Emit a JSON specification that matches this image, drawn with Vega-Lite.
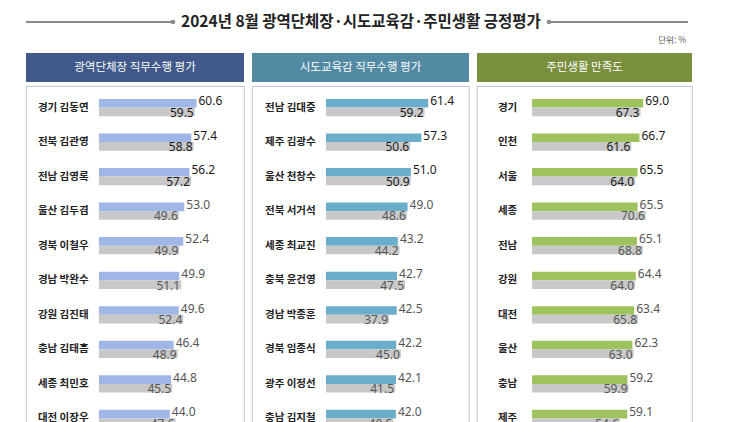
{
  "$schema": "https://vega.github.io/schema/vega-lite/v6.json",
  "background": "white",
  "padding": {"left": 25, "top": 8, "right": 5, "bottom": 5},
  "config": {"view": {"stroke": null}, "font": "Noto Sans CJK KR", "concat": {"spacing": 6}},
  "datasets": {
    "rows": [
      {"panel": 1, "rank": 1, "name": "경기 김동연", "cur": 60.6, "prev": 59.5},
      {"panel": 1, "rank": 2, "name": "전북 김관영", "cur": 57.4, "prev": 58.8},
      {"panel": 1, "rank": 3, "name": "전남 김영록", "cur": 56.2, "prev": 57.2},
      {"panel": 1, "rank": 4, "name": "울산 김두겸", "cur": 53.0, "prev": 49.6},
      {"panel": 1, "rank": 5, "name": "경북 이철우", "cur": 52.4, "prev": 49.9},
      {"panel": 1, "rank": 6, "name": "경남 박완수", "cur": 49.9, "prev": 51.1},
      {"panel": 1, "rank": 7, "name": "강원 김진태", "cur": 49.6, "prev": 52.4},
      {"panel": 1, "rank": 8, "name": "충남 김태흠", "cur": 46.4, "prev": 48.9},
      {"panel": 1, "rank": 9, "name": "세종 최민호", "cur": 44.8, "prev": 45.5},
      {"panel": 1, "rank": 10, "name": "대전 이장우", "cur": 44.0, "prev": 47.6},
      {"panel": 2, "rank": 1, "name": "전남 김대중", "cur": 61.4, "prev": 59.2},
      {"panel": 2, "rank": 2, "name": "제주 김광수", "cur": 57.3, "prev": 50.6},
      {"panel": 2, "rank": 3, "name": "울산 천창수", "cur": 51.0, "prev": 50.9},
      {"panel": 2, "rank": 4, "name": "전북 서거석", "cur": 49.0, "prev": 48.6},
      {"panel": 2, "rank": 5, "name": "세종 최교진", "cur": 43.2, "prev": 44.2},
      {"panel": 2, "rank": 6, "name": "충북 윤건영", "cur": 42.7, "prev": 47.5},
      {"panel": 2, "rank": 7, "name": "경남 박종훈", "cur": 42.5, "prev": 37.9},
      {"panel": 2, "rank": 8, "name": "경북 임종식", "cur": 42.2, "prev": 45.0},
      {"panel": 2, "rank": 9, "name": "광주 이정선", "cur": 42.1, "prev": 41.5},
      {"panel": 2, "rank": 10, "name": "충남 김지철", "cur": 42.0, "prev": 40.5},
      {"panel": 3, "rank": 1, "name": "경기", "cur": 69.0, "prev": 67.3},
      {"panel": 3, "rank": 2, "name": "인천", "cur": 66.7, "prev": 61.6},
      {"panel": 3, "rank": 3, "name": "서울", "cur": 65.5, "prev": 64.0},
      {"panel": 3, "rank": 4, "name": "세종", "cur": 65.5, "prev": 70.6},
      {"panel": 3, "rank": 5, "name": "전남", "cur": 65.1, "prev": 68.8},
      {"panel": 3, "rank": 6, "name": "강원", "cur": 64.4, "prev": 64.0},
      {"panel": 3, "rank": 7, "name": "대전", "cur": 63.4, "prev": 65.8},
      {"panel": 3, "rank": 8, "name": "울산", "cur": 62.3, "prev": 63.0},
      {"panel": 3, "rank": 9, "name": "충남", "cur": 59.2, "prev": 59.9},
      {"panel": 3, "rank": 10, "name": "제주", "cur": 59.1, "prev": 54.6}
    ],
    "deco": [
      {"kind": "line", "a": 0, "b": 0.222},
      {"kind": "line", "a": 0.79, "b": 1}
    ],
    "dots": [{"p": 0.222}, {"p": 0.79}],
    "heads": [{"t": "2024년 8월 광역단체장·시도교육감·주민생활 긍정평가", "x": 0.506, "y": 0.64}],
    "unit": [{"t": "단위: %", "x": 1, "y": 0.2}]
  },
  "vconcat": [
    {
      "width": 662,
      "height": 40,
      "layer": [
        {
          "data": {"name": "deco"},
          "mark": {"type": "rule", "color": "#8a8a8a", "strokeWidth": 2},
          "encoding": {
            "x": {"field": "a", "type": "quantitative", "scale": {"domain": [0, 1], "nice": false, "zero": false}, "axis": null},
            "x2": {"field": "b"},
            "y": {"datum": 0.65, "type": "quantitative", "scale": {"domain": [0, 1], "nice": false}, "axis": null}
          }
        },
        {
          "data": {"name": "dots"},
          "mark": {"type": "circle", "color": "#8a8a8a", "opacity": 1, "size": 22},
          "encoding": {
            "x": {"field": "p", "type": "quantitative"},
            "y": {"datum": 0.65, "type": "quantitative"}
          }
        },
        {
          "data": {"name": "heads"},
          "mark": {"type": "text", "fontSize": 15.5, "fontWeight": "bold", "color": "#222222", "align": "center", "baseline": "middle"},
          "encoding": {
            "x": {"field": "x", "type": "quantitative"},
            "y": {"field": "y", "type": "quantitative"},
            "text": {"field": "t"}
          }
        },
        {
          "data": {"name": "unit"},
          "mark": {"type": "text", "fontSize": 8.5, "color": "#555555", "align": "right", "baseline": "middle", "dx": -2},
          "encoding": {
            "x": {"field": "x", "type": "quantitative"},
            "y": {"field": "y", "type": "quantitative"},
            "text": {"field": "t"}
          }
        }
      ]
    },
    {
      "hconcat": [
        {
          "spacing": 3,
          "vconcat": [
            {
              "width": 218, "height": 29,
              "view": {"fill": "#40598a", "stroke": null},
              "data": {"values": [{"t": "광역단체장 직무수행 평가"}]},
              "mark": {"type": "text", "color": "white", "fontSize": 11.5, "baseline": "middle", "align": "center"},
              "encoding": {"text": {"field": "t"}}
            },
            {
              "width": 218, "height": 354,
              "view": {"fill": "white", "stroke": "#c6d0da", "strokeWidth": 1.2},
              "data": {"name": "rows"},
              "transform": [{"filter": "datum.panel === 1"}, {"fold": ["cur", "prev"], "as": ["series", "value"]}],
              "encoding": {
                "y": {"field": "rank", "type": "ordinal", "axis": null, "scale": {"paddingInner": 0, "paddingOuter": 0.123}}
              },
              "layer": [
                {
                  "mark": {"type": "bar"},
                  "encoding": {
                    "x": {"field": "value", "type": "quantitative", "axis": null, "scale": {"domain": [-45.3, 90.1], "nice": false, "zero": false}},
                    "x2": {"datum": 0},
                    "yOffset": {"field": "series", "scale": {"domain": ["cur", "prev"], "paddingInner": 0, "paddingOuter": 1.03}},
                    "color": {"condition": {"test": "datum.series === 'cur'", "value": "#9fb6e6"}, "value": "#c8c8c8"}
                  }
                },
                {
                  "transform": [{"filter": "datum.series === 'cur'"}],
                  "mark": {"type": "text", "align": "left", "baseline": "middle", "dx": 2, "dy": -2, "fontSize": 12, "font": "Noto Sans"},
                  "encoding": {
                    "x": {"field": "value", "type": "quantitative"},
                    "yOffset": {"field": "series"},
                    "text": {"field": "value", "format": ".1f"},
                    "color": {"condition": {"test": "datum.rank <= 3", "value": "#1a1a1a"}, "value": "#555555"}
                  }
                },
                {
                  "transform": [{"filter": "datum.series === 'prev'"}],
                  "mark": {"type": "text", "align": "right", "baseline": "middle", "dx": -1, "dy": 1, "fontSize": 12, "font": "Noto Sans"},
                  "encoding": {
                    "x": {"field": "value", "type": "quantitative"},
                    "yOffset": {"field": "series"},
                    "text": {"field": "value", "format": ".1f"},
                    "color": {"condition": {"test": "datum.rank <= 3", "value": "#1a1a1a"}, "value": "#555555"}
                  }
                },
                {
                  "transform": [{"filter": "datum.series === 'cur'"}],
                  "mark": {"type": "text", "align": "left", "baseline": "middle", "fontSize": 10.5, "fontWeight": "bold", "color": "#222222"},
                  "encoding": {
                    "x": {"datum": -37.9, "type": "quantitative"},
                    "text": {"field": "name"}
                  }
                }
              ]
            }
          ]
        },
        {
          "spacing": 3,
          "vconcat": [
            {
              "width": 217, "height": 29,
              "view": {"fill": "#5289a3", "stroke": null},
              "data": {"values": [{"t": "시도교육감 직무수행 평가"}]},
              "mark": {"type": "text", "color": "white", "fontSize": 11.5, "baseline": "middle", "align": "center"},
              "encoding": {"text": {"field": "t"}}
            },
            {
              "width": 217, "height": 354,
              "view": {"fill": "white", "stroke": "#c6d0da", "strokeWidth": 1.2},
              "data": {"name": "rows"},
              "transform": [{"filter": "datum.panel === 2"}, {"fold": ["cur", "prev"], "as": ["series", "value"]}],
              "encoding": {
                "y": {"field": "rank", "type": "ordinal", "axis": null, "scale": {"paddingInner": 0, "paddingOuter": 0.123}}
              },
              "layer": [
                {
                  "mark": {"type": "bar"},
                  "encoding": {
                    "x": {"field": "value", "type": "quantitative", "axis": null, "scale": {"domain": [-44.4, 85.9], "nice": false, "zero": false}},
                    "x2": {"datum": 0},
                    "yOffset": {"field": "series", "scale": {"domain": ["cur", "prev"], "paddingInner": 0, "paddingOuter": 1.03}},
                    "color": {"condition": {"test": "datum.series === 'cur'", "value": "#6aaecc"}, "value": "#c8c8c8"}
                  }
                },
                {
                  "transform": [{"filter": "datum.series === 'cur'"}],
                  "mark": {"type": "text", "align": "left", "baseline": "middle", "dx": 2, "dy": -2, "fontSize": 12, "font": "Noto Sans"},
                  "encoding": {
                    "x": {"field": "value", "type": "quantitative"},
                    "yOffset": {"field": "series"},
                    "text": {"field": "value", "format": ".1f"},
                    "color": {"condition": {"test": "datum.rank <= 3", "value": "#1a1a1a"}, "value": "#555555"}
                  }
                },
                {
                  "transform": [{"filter": "datum.series === 'prev'"}],
                  "mark": {"type": "text", "align": "right", "baseline": "middle", "dx": -1, "dy": 1, "fontSize": 12, "font": "Noto Sans"},
                  "encoding": {
                    "x": {"field": "value", "type": "quantitative"},
                    "yOffset": {"field": "series"},
                    "text": {"field": "value", "format": ".1f"},
                    "color": {"condition": {"test": "datum.rank <= 3", "value": "#1a1a1a"}, "value": "#555555"}
                  }
                },
                {
                  "transform": [{"filter": "datum.series === 'cur'"}],
                  "mark": {"type": "text", "align": "left", "baseline": "middle", "fontSize": 10.5, "fontWeight": "bold", "color": "#222222"},
                  "encoding": {
                    "x": {"datum": -36.6, "type": "quantitative"},
                    "text": {"field": "name"}
                  }
                }
              ]
            }
          ]
        },
        {
          "spacing": 3,
          "vconcat": [
            {
              "width": 215, "height": 29,
              "view": {"fill": "#7a8f3e", "stroke": null},
              "data": {"values": [{"t": "주민생활 만족도"}]},
              "mark": {"type": "text", "color": "white", "fontSize": 11.5, "baseline": "middle", "align": "center"},
              "encoding": {"text": {"field": "t"}}
            },
            {
              "width": 215, "height": 354,
              "view": {"fill": "white", "stroke": "#c6d0da", "strokeWidth": 1.2},
              "data": {"name": "rows"},
              "transform": [{"filter": "datum.panel === 3"}, {"fold": ["cur", "prev"], "as": ["series", "value"]}],
              "encoding": {
                "y": {"field": "rank", "type": "ordinal", "axis": null, "scale": {"paddingInner": 0, "paddingOuter": 0.123}}
              },
              "layer": [
                {
                  "mark": {"type": "bar"},
                  "encoding": {
                    "x": {"field": "value", "type": "quantitative", "axis": null, "scale": {"domain": [-34.2, 99.3], "nice": false, "zero": false}},
                    "x2": {"datum": 0},
                    "yOffset": {"field": "series", "scale": {"domain": ["cur", "prev"], "paddingInner": 0, "paddingOuter": 1.03}},
                    "color": {"condition": {"test": "datum.series === 'cur'", "value": "#9dc25e"}, "value": "#c8c8c8"}
                  }
                },
                {
                  "transform": [{"filter": "datum.series === 'cur'"}],
                  "mark": {"type": "text", "align": "left", "baseline": "middle", "dx": 2, "dy": -2, "fontSize": 12, "font": "Noto Sans"},
                  "encoding": {
                    "x": {"field": "value", "type": "quantitative"},
                    "yOffset": {"field": "series"},
                    "text": {"field": "value", "format": ".1f"},
                    "color": {"condition": {"test": "datum.rank <= 3", "value": "#1a1a1a"}, "value": "#555555"}
                  }
                },
                {
                  "transform": [{"filter": "datum.series === 'prev'"}],
                  "mark": {"type": "text", "align": "right", "baseline": "middle", "dx": -1, "dy": 1, "fontSize": 12, "font": "Noto Sans"},
                  "encoding": {
                    "x": {"field": "value", "type": "quantitative"},
                    "yOffset": {"field": "series"},
                    "text": {"field": "value", "format": ".1f"},
                    "color": {"condition": {"test": "datum.rank <= 3", "value": "#1a1a1a"}, "value": "#555555"}
                  }
                },
                {
                  "transform": [{"filter": "datum.series === 'cur'"}],
                  "mark": {"type": "text", "align": "left", "baseline": "middle", "fontSize": 10.5, "fontWeight": "bold", "color": "#222222"},
                  "encoding": {
                    "x": {"datum": -21.2, "type": "quantitative"},
                    "text": {"field": "name"}
                  }
                }
              ]
            }
          ]
        }
      ],
      "resolve": {"scale": {"x": "independent", "y": "independent"}}
    }
  ],
  "spacing": 5
}
